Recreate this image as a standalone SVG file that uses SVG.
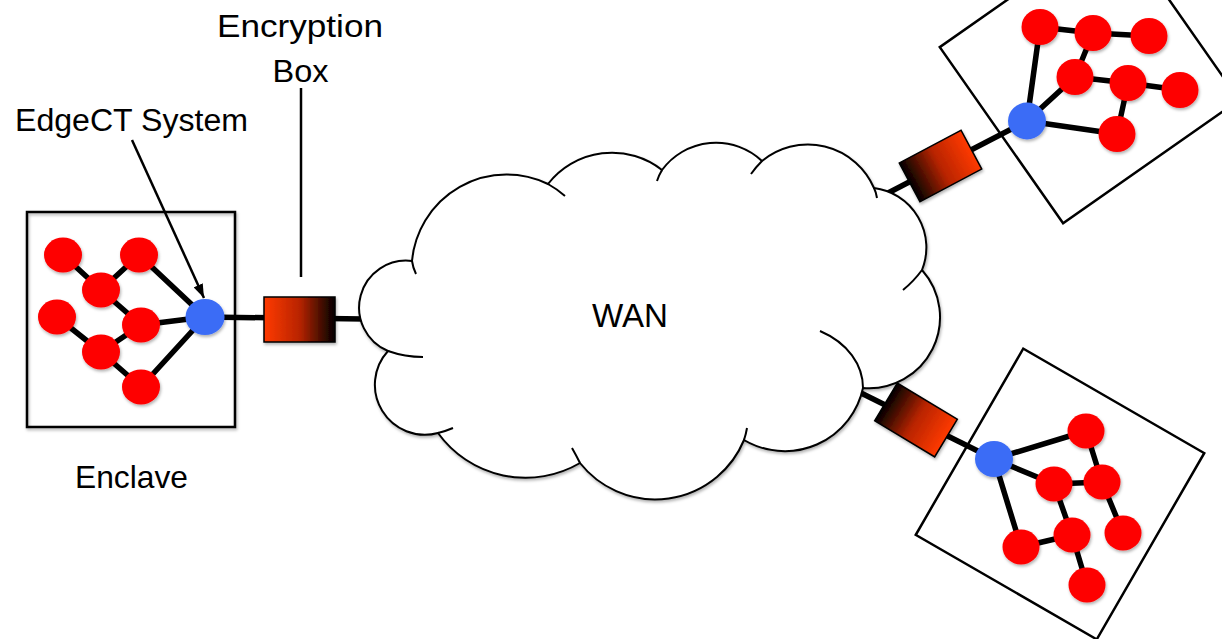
<svg xmlns="http://www.w3.org/2000/svg" width="1222" height="639" viewBox="0 0 1222 639">
  <style>
    .label { font-family: "Liberation Sans", Arial, sans-serif; fill: #000; }
    .frame { fill: none; stroke: #000; stroke-width: 2.5; }
    .red { fill: #fe0000; }
    .blue { fill: #3b6cf6; }
    .edge { stroke: #000; stroke-width: 5.5; stroke-linecap: butt; fill: none; }
    .link { stroke: #000; stroke-width: 5.5; fill: none; }
    .enc { fill: url(#encGrad); stroke: #000; stroke-width: 1.5; }
    .cloud { fill: #fff; stroke: #000; stroke-width: 2; }
    .stub { fill: none; stroke: #000; stroke-width: 2; }
    .leader { stroke: #000; stroke-width: 2.5; fill: none; }
  </style>
  <defs>
    <linearGradient id="encGrad" x1="0" y1="0" x2="1" y2="0">
      <stop offset="0" stop-color="#ff3a00"/>
      <stop offset="0.5" stop-color="#b82400"/>
      <stop offset="1" stop-color="#000"/>
    </linearGradient>
    <filter id="shadow" x="-20%" y="-20%" width="140%" height="140%">
      <feDropShadow dx="1" dy="2" stdDeviation="1.5" flood-color="#000" flood-opacity="0.3"/>
    </filter>
    <marker id="arrow" markerUnits="userSpaceOnUse" markerWidth="14" markerHeight="10" refX="14" refY="5" orient="auto">
      <path d="M0,0 L14,5 L0,10 z" fill="#000"/>
    </marker>
  </defs>

  <rect width="1222" height="639" fill="#fff"/>

  <!-- all connecting lines -->
  <g id="connectors">
    <!-- left enclave links -->
    <path class="edge" d="M63,255 L101,290 M139,255 L101,290 M139,255 L205,317 M101,290 L141,325 M57,317 L101,352 M141,325 L101,352 M141,325 L205,317 M101,352 L141,387 M141,387 L205,317"/>
    <!-- upper-right enclave links -->
    <path class="edge" d="M1040,27 L1093,33 M1093,33 L1149,36 M1093,33 L1075,77 M1040,27 L1027,121 M1075,77 L1027,121 M1075,77 L1128,83 M1128,83 L1180,90 M1128,83 L1117,134 M1027,121 L1117,134"/>
    <!-- lower-right enclave links -->
    <path class="edge" d="M994,459 L1086,431 M994,459 L1054,484 M994,459 L1021,547 M1086,431 L1102,482 M1054,484 L1102,482 M1102,482 L1123,533 M1054,484 L1072,535 M1072,535 L1021,547 M1072,535 L1087,585"/>
    <!-- uplinks from each gateway to the WAN -->
    <line class="link" x1="205" y1="317" x2="364" y2="319"/>
    <line class="link" x1="888" y1="193" x2="1027" y2="121"/>
    <line class="link" x1="855" y1="390" x2="994" y2="459"/>
    <!-- callouts -->
    <line class="leader" x1="301" y1="88" x2="301" y2="277"/>
    <line class="leader" x1="132" y1="140" x2="204" y2="298" stroke-width="2" marker-end="url(#arrow)"/>
  </g>

  <!-- wide-area network -->
  <g id="wan">
    <g filter="url(#shadow)">
      <path class="cloud" d="M412,261 A95,95 0 0 1 548,184 A81,81 0 0 1 662,170 A67,67 0 0 1 762,161 A72,72 0 0 1 874,188 A60,60 0 0 1 922,270 A71,71 0 0 1 863,388 A80,80 0 0 1 744,440 A96,96 0 0 1 580,463 A108,108 0 0 1 438,433 A50,50 0 0 1 388,351 A47,47 0 0 1 412,261 Z"/>
    </g>
    <path class="stub" d="M412,261 Q413,268 416,274 M548,184 Q557,189 565,196 M662,170 Q659,175 657,181 M762,161 Q756,167 751,174 M874,188 Q876,192 877,198 M922,270 Q914,281 903,290 M863,388 C863,365 848,343 820,331 M744,440 Q746,434 747,428 M580,463 Q576,455 572,448 M438,433 Q446,431 453,428 M388,351 Q405,357 423,357"/>
    <text class="label" x="630" y="327" font-size="33" text-anchor="middle" textLength="76" lengthAdjust="spacingAndGlyphs">WAN</text>
  </g>

  <!-- encryption boxes -->
  <g id="enc-left" filter="url(#shadow)">
    <rect class="enc" x="264" y="297" width="71" height="45"/>
  </g>
  <g id="enc-upper-right" filter="url(#shadow)">
    <rect class="enc" x="-35" y="-22" width="70" height="44" transform="translate(940.5,166) rotate(152)"/>
  </g>
  <g id="enc-lower-right" filter="url(#shadow)">
    <rect class="enc" x="-35" y="-22" width="70" height="44" transform="translate(916,420) rotate(211)"/>
  </g>

  <!-- left enclave -->
  <g id="enclave-left">
    <rect class="frame" x="27" y="212" width="208" height="215" filter="url(#shadow)"/>
    <g filter="url(#shadow)">
      <ellipse class="red" cx="63" cy="255" rx="19" ry="17.5"/>
      <ellipse class="red" cx="139" cy="255" rx="19" ry="17.5"/>
      <ellipse class="red" cx="101" cy="290" rx="19" ry="17.5"/>
      <ellipse class="red" cx="57" cy="317" rx="19" ry="17.5"/>
      <ellipse class="red" cx="141" cy="325" rx="19" ry="17.5"/>
      <ellipse class="red" cx="101" cy="352" rx="19" ry="17.5"/>
      <ellipse class="red" cx="141" cy="387" rx="19" ry="17.5"/>
      <ellipse class="blue" cx="205" cy="317" rx="19.5" ry="18"/>
    </g>
  </g>

  <!-- upper-right enclave -->
  <g id="enclave-upper-right">
    <rect class="frame" x="-107.5" y="-107.5" width="215" height="215" transform="translate(1089.5,73.5) rotate(-35)"/>
    <g filter="url(#shadow)">
      <ellipse class="red" cx="1040" cy="27" rx="18.5" ry="18"/>
      <ellipse class="red" cx="1093" cy="33" rx="18.5" ry="18"/>
      <ellipse class="red" cx="1149" cy="36" rx="18.5" ry="18"/>
      <ellipse class="red" cx="1075" cy="77" rx="18.5" ry="18"/>
      <ellipse class="red" cx="1128" cy="83" rx="18.5" ry="18"/>
      <ellipse class="red" cx="1180" cy="90" rx="18.5" ry="18"/>
      <ellipse class="red" cx="1117" cy="134" rx="18.5" ry="18"/>
      <ellipse class="blue" cx="1027" cy="121" rx="19" ry="18.5"/>
    </g>
  </g>

  <!-- lower-right enclave -->
  <g id="enclave-lower-right">
    <rect class="frame" x="-104.5" y="-107.5" width="209" height="215" transform="translate(1060,494) rotate(30)"/>
    <g filter="url(#shadow)">
      <ellipse class="red" cx="1086" cy="431" rx="18.5" ry="17.5"/>
      <ellipse class="red" cx="1054" cy="484" rx="18.5" ry="17.5"/>
      <ellipse class="red" cx="1102" cy="482" rx="18.5" ry="17.5"/>
      <ellipse class="red" cx="1123" cy="533" rx="18.5" ry="17.5"/>
      <ellipse class="red" cx="1072" cy="535" rx="18.5" ry="17.5"/>
      <ellipse class="red" cx="1021" cy="547" rx="18.5" ry="17.5"/>
      <ellipse class="red" cx="1087" cy="585" rx="18.5" ry="17.5"/>
      <ellipse class="blue" cx="994" cy="459" rx="19" ry="18"/>
    </g>
  </g>

  <!-- labels -->
  <g id="labels">
    <text class="label" x="300" y="37" font-size="31" text-anchor="middle" textLength="166" lengthAdjust="spacingAndGlyphs">Encryption</text>
    <text class="label" x="300.5" y="82" font-size="31" text-anchor="middle" textLength="56" lengthAdjust="spacingAndGlyphs">Box</text>
    <text class="label" x="15" y="131" font-size="31" textLength="233" lengthAdjust="spacingAndGlyphs">EdgeCT System</text>
    <text class="label" x="131.5" y="488" font-size="32" text-anchor="middle" textLength="113" lengthAdjust="spacingAndGlyphs">Enclave</text>
  </g>
</svg>
